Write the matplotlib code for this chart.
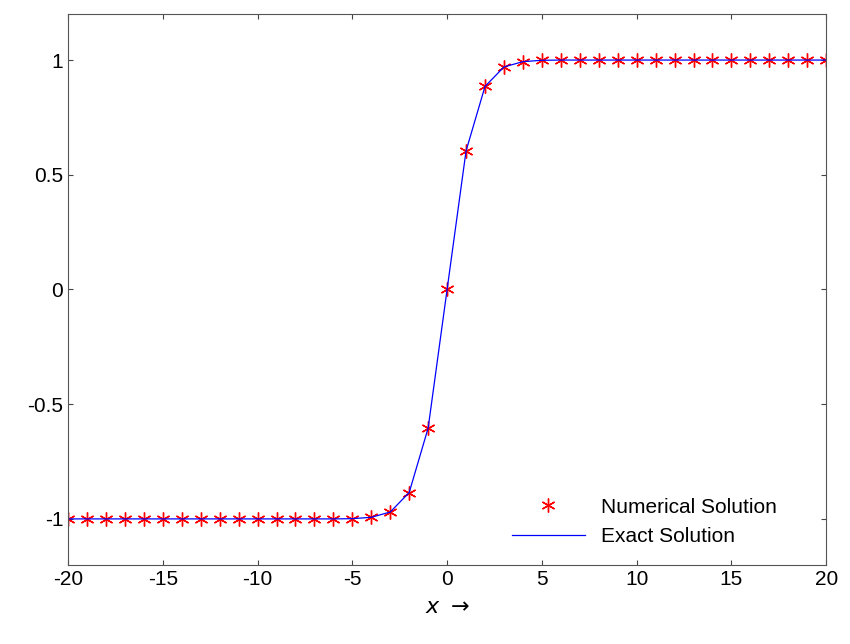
import matplotlib.pyplot as plt

plt.rcParams['font.family'] = 'Liberation Sans'

x_vals = list(range(-20, 21))
numerical = [-1.0] * 15 + [-0.999, -0.993, -0.970, -0.885, -0.604, 0.0,
                           0.604, 0.885, 0.970, 0.993, 0.999] + [1.0] * 15
exact = list(numerical)

fig = plt.figure(figsize=(8.5, 6.44), dpi=100)
ax = fig.add_axes([0.08, 0.123, 0.892, 0.855])
ax.plot(x_vals, numerical, linestyle='none', marker=(6, 2, 0), color='red',
        markersize=10, markeredgewidth=1.0, label='Numerical Solution')
ax.plot(x_vals, exact, '-', color='blue', linewidth=0.9, label='Exact Solution')
ax.set_xlim(-20, 20)
ax.set_ylim(-1.2, 1.2)
ax.set_xticks(range(-20, 21, 5))
ax.set_yticks([-1, -0.5, 0, 0.5, 1])
ax.set_yticklabels(['-1', '-0.5', '0', '0.5', '1'])
ax.set_xticklabels([str(v) for v in range(-20, 21, 5)])
ax.tick_params(labelsize=15, direction='in', top=True, right=True, color='#444444')
for s in ax.spines.values():
    s.set_color('#555555')
ax.set_xlabel(r'$x\ \rightarrow$', fontsize=16, labelpad=6)
ax.legend(loc='lower right', frameon=False, fontsize=15, bbox_to_anchor=(0.96, 0.0),
          handlelength=3.5)
fig.savefig('out.png')
